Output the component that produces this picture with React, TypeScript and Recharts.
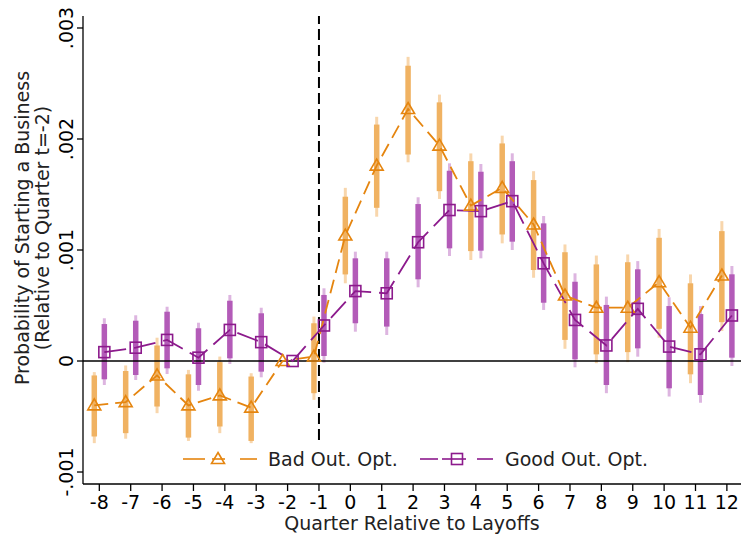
import { ComposedChart, Line, ErrorBar, XAxis, YAxis, ReferenceLine, Label } from 'recharts';

// values are in thousandths (1 = .001)
const quarters = [-8, -7, -6, -5, -4, -3, -2, -1, 0, 1, 2, 3, 4, 5, 6, 7, 8, 9, 10, 11, 12];
const yTicks = [-1, 0, 1, 2, 3];

const badCoef = [-0.40, -0.37, -0.13, -0.40, -0.31, -0.42, 0, 0.04, 1.13, 1.76, 2.27, 1.94, 1.40, 1.56, 1.23, 0.59, 0.48, 0.48, 0.71, 0.30, 0.77];
const badLo90 = [-0.68, -0.65, -0.41, -0.69, -0.59, -0.72, 0, -0.29, 0.78, 1.38, 1.86, 1.53, 0.99, 1.14, 0.82, 0.19, 0.06, 0.08, 0.29, -0.12, 0.35];
const badHi90 = [-0.13, -0.09, 0.14, -0.12, -0.01, -0.14, 0, 0.34, 1.48, 2.13, 2.66, 2.33, 1.80, 1.96, 1.63, 0.98, 0.87, 0.89, 1.11, 0.70, 1.17];
const badLo95 = [-0.74, -0.70, -0.47, -0.72, -0.65, -0.74, 0, -0.35, 0.70, 1.30, 1.79, 1.46, 0.91, 1.06, 0.75, 0.11, -0.02, -0.01, 0.21, -0.20, 0.27];
const badHi95 = [-0.10, -0.04, 0.21, -0.08, 0.04, -0.11, 0, 0.40, 1.56, 2.20, 2.74, 2.40, 1.87, 2.03, 1.71, 1.05, 0.95, 0.96, 1.19, 0.78, 1.26];

const goodCoef = [0.08, 0.12, 0.19, 0.03, 0.28, 0.17, 0, 0.32, 0.63, 0.61, 1.07, 1.36, 1.35, 1.44, 0.88, 0.37, 0.14, 0.47, 0.13, 0.06, 0.41];
const goodLo90 = [-0.165, -0.126, -0.066, -0.216, 0.024, -0.096, 0, 0.045, 0.34, 0.31, 0.736, 1.015, 0.994, 1.075, 0.525, 0.015, -0.216, 0.114, -0.246, -0.306, 0.03];
const goodHi90 = [0.333, 0.363, 0.444, 0.295, 0.543, 0.43, 0, 0.595, 0.925, 0.925, 1.414, 1.714, 1.705, 1.80, 1.24, 0.714, 0.505, 0.826, 0.495, 0.423, 0.781];
const goodLo95 = [-0.216, -0.171, -0.117, -0.268, -0.027, -0.147, 0, -0.015, 0.264, 0.234, 0.664, 0.946, 0.925, 1.0, 0.46, -0.057, -0.29, 0.039, -0.32, -0.376, -0.045];
const goodHi95 = [0.385, 0.412, 0.489, 0.345, 0.595, 0.48, 0, 0.655, 0.985, 0.985, 1.475, 1.781, 1.775, 1.871, 1.306, 0.79, 0.58, 0.90, 0.574, 0.495, 0.856];

const ORANGE = '#E5850F';
const ORANGE_90 = '#F0B262';
const ORANGE_95 = '#F8D6AC';
const PURPLE = '#8C1A8C';
const PURPLE_90 = '#B35BB8';
const PURPLE_95 = '#DDB5E0';
const FONT = 'DejaVu Sans, sans-serif';

const makeRows = (coef: number[], lo90: number[], hi90: number[], lo95: number[], hi95: number[], shift: number) =>
  quarters.map((q, i) => ({
    x: q + shift,
    y: coef[i],
    ci90: [coef[i] - lo90[i], hi90[i] - coef[i]],
    ci95: [coef[i] - lo95[i], hi95[i] - coef[i]],
  }));

const badRows = makeRows(badCoef, badLo90, badHi90, badLo95, badHi95, -0.16);
const goodRows = makeRows(goodCoef, goodLo90, goodHi90, goodLo95, goodHi95, 0.16);

const fmtY = (v: number) => (v === 0 ? '0' : (v < 0 ? '-' : '') + '.00' + Math.abs(v));

//@ts-ignore
const Triangle = ({ cx, cy }) => (
  <path d={`M${cx},${cy - 6.5} L${cx + 6.5},${cy + 4.5} L${cx - 6.5},${cy + 4.5} Z`} fill="none" stroke={ORANGE} strokeWidth={1.6} />
);

//@ts-ignore
const Square = ({ cx, cy }) => (
  <rect x={cx - 5.5} y={cy - 5.5} width={11} height={11} fill="none" stroke={PURPLE} strokeWidth={1.6} />
);

//@ts-ignore
const YTick = ({ x, y, payload }) => (
  <text x={x + 1} y={y} transform={`rotate(-90 ${x + 1} ${y})`} textAnchor="middle" fontSize={19} fontFamily={FONT} fill="#000">
    {fmtY(payload.value)}
  </text>
);

const YTitle = () => (
  <g fontSize={19} fontFamily={FONT} fill="#222" textAnchor="middle">
    <text x={29} y={228} transform="rotate(-90 29 228)">Probability of Starting a Business</text>
    <text x={49} y={228} transform="rotate(-90 49 228)">(Relative to Quarter t=-2)</text>
  </g>
);

const XTitle = () => (
  <text x={412} y={530} textAnchor="middle" fontSize={19} fontFamily={FONT} fill="#222">
    Quarter Relative to Layoffs
  </text>
);

const LegendOverlay = () => (
  <svg width={480} height={26} style={{ position: 'absolute', left: 180, top: 446 }}>
    <g stroke={ORANGE} strokeWidth={1.6}>
      <line x1={3} y1={13} x2={25} y2={13} />
      <line x1={32} y1={13} x2={45} y2={13} />
      <line x1={60} y1={13} x2={77} y2={13} />
    </g>
    <Triangle cx={38} cy={13} />
    <text x={88} y={20} fontSize={19} fontFamily={FONT} fill="#222">Bad Out. Opt.</text>
    <g stroke={PURPLE} strokeWidth={1.6}>
      <line x1={240} y1={13} x2={258} y2={13} />
      <line x1={262} y1={13} x2={286} y2={13} />
      <line x1={297} y1={13} x2={313} y2={13} />
    </g>
    <Square cx={277} cy={13} />
    <text x={325} y={20} fontSize={19} fontFamily={FONT} fill="#222">Good Out. Opt.</text>
  </svg>
);

export default function App() {
  return (
    <div style={{ position: 'absolute', left: 0, top: 0, width: 743, height: 536, background: '#fff' }}>
      <ComposedChart width={743} height={536} margin={{ top: 16, right: 2, bottom: 0, left: 0 }}>
        <XAxis
          dataKey="x"
          type="number"
          domain={[-8.52, 12.45]}
          ticks={quarters}
          allowDataOverflow
          height={52}
          tickSize={7}
          tickMargin={5}
          axisLine={{ stroke: '#000', strokeWidth: 1.3 }}
          tickLine={{ stroke: '#000', strokeWidth: 1.3 }}
          tick={{ fontSize: 19, fontFamily: FONT, fill: '#000' }}
        >
          <Label content={<XTitle />} />
        </XAxis>
        <YAxis
          type="number"
          domain={[-1.108, 3.108]}
          ticks={yTicks}
          allowDataOverflow
          width={83}
          tickSize={6}
          tickMargin={5}
          axisLine={{ stroke: '#000', strokeWidth: 1.3 }}
          tickLine={{ stroke: '#000', strokeWidth: 1.3 }}
          tick={<YTick />}
        >
          <Label content={<YTitle />} />
        </YAxis>

        <Line data={badRows} dataKey="y" stroke="none" dot={false} activeDot={false} legendType="none" isAnimationActive={false}>
          <ErrorBar dataKey="ci95" width={0} stroke={ORANGE_95} strokeWidth={3} />
          <ErrorBar dataKey="ci90" width={0} stroke={ORANGE_90} strokeWidth={5.5} />
        </Line>
        <Line data={goodRows} dataKey="y" stroke="none" dot={false} activeDot={false} legendType="none" isAnimationActive={false}>
          <ErrorBar dataKey="ci95" width={0} stroke={PURPLE_95} strokeWidth={3} />
          <ErrorBar dataKey="ci90" width={0} stroke={PURPLE_90} strokeWidth={5.5} />
        </Line>

        <ReferenceLine y={0} stroke="#000" strokeWidth={1.3} />
        <ReferenceLine segment={[{ x: -1, y: -0.712 }, { x: -1, y: 3.108 }]} stroke="#000" strokeWidth={2} strokeDasharray="11 5" />

        <Line data={badRows} dataKey="y" stroke={ORANGE} strokeWidth={1.8} strokeDasharray="14 7" dot={<Triangle />} activeDot={false} isAnimationActive={false} />
        <Line data={goodRows} dataKey="y" stroke={PURPLE} strokeWidth={1.8} strokeDasharray="22 8" dot={<Square />} activeDot={false} isAnimationActive={false} />
      </ComposedChart>
      <LegendOverlay />
    </div>
  );
}
